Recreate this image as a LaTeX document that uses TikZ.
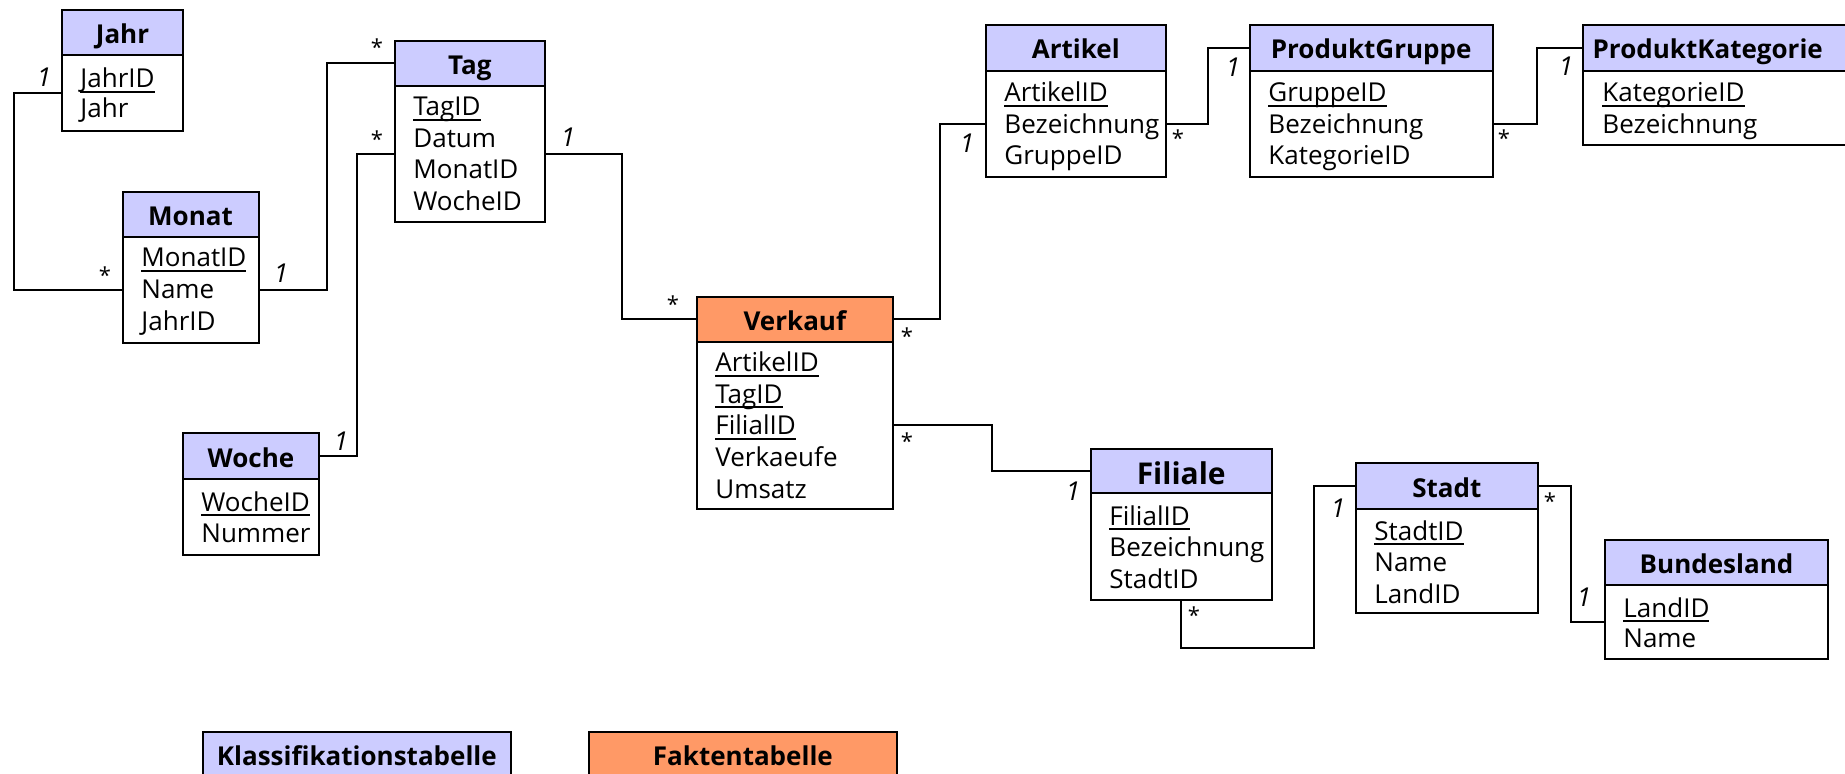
\documentclass[tikz,border=0pt]{standalone}
\usepackage{fontspec}
\setmainfont{Open Sans}
\definecolor{dimblue}{HTML}{CCCCFF}
\definecolor{factorange}{HTML}{FF9966}
\newcommand\keyattr[1]{\setbox0=\hbox{#1}\rlap{\vrule height -1.3pt depth 2.3pt width \wd0}\box0}
\tikzset{
  hdr/.style={draw=black, line width=1pt, inner sep=0pt, outer sep=0pt, anchor=north west,
    font=\bfseries\fontsize{13}{15}\selectfont, text height=11pt, text depth=0pt},
  bdy/.style={draw=black, line width=1pt, inner sep=0pt, outer sep=0pt, anchor=north west, fill=white},
  attr/.style={anchor=base west, inner sep=0pt, font=\fontsize{13}{15}\selectfont},
  card/.style={inner sep=0pt, font=\fontsize{11}{13}\selectfont},
  one/.style={inner sep=0pt, font=\itshape\fontsize{13}{15}\selectfont},
  conn/.style={line width=1pt, line join=miter},
}
% #1 name #2 x #3 top #4 width #5 header h #6 body h #7 fill #8 title
\newcommand\mktable[8]{%
  \node[bdy, minimum width=#4*0.5pt, minimum height=#6*0.5pt] (#1B) at (#2,#3+#5) {};
  \node[hdr, fill=#7, minimum width=#4*0.5pt, minimum height=#5*0.5pt] (#1H) at (#2,#3) {#8};
}
\begin{document}
\begin{tikzpicture}[x=0.5pt,y=-0.5pt]
\useasboundingbox (0,0) rectangle (1845,774);
\clip (0,0) rectangle (1845,774);

% ---- tables
\mktable{jahr}{62}{10}{121}{45}{76}{dimblue}{Jahr}
\node[attr] (jahrR1) at (80,88) {\keyattr{JahrID}};
\node[attr] (jahrR2) at (80,118) {Jahr};

\mktable{monat}{122.5}{192}{136}{45}{106}{dimblue}{Monat}
\node[attr] (monatR1) at (141,267) {\keyattr{MonatID}};
\node[attr] (monatR2) at (141,299) {Name};
\node[attr] (monatR3) at (141,331) {JahrID};

\mktable{tag}{394.6}{40.7}{150.4}{45.3}{135.7}{dimblue}{Tag}
\node[attr] (tagR1) at (413,116) {\keyattr{TagID}};
\node[attr] (tagR2) at (413,147.5) {Datum};
\node[attr] (tagR3) at (413,179) {MonatID};
\node[attr] (tagR4) at (413,210.5) {WocheID};

\mktable{woche}{183}{433}{136}{46}{76}{dimblue}{Woche}
\node[attr] (wocheR1) at (201,511.5) {\keyattr{WocheID}};
\node[attr] (wocheR2) at (201,542) {Nummer};

\mktable{verkauf}{696.7}{297}{196.3}{45}{167}{factorange}{Verkauf}
\node[attr] (verkaufR1) at (715,372) {\keyattr{ArtikelID}};
\node[attr] (verkaufR2) at (715,403.5) {\keyattr{TagID}};
\node[attr] (verkaufR3) at (715,435) {\keyattr{FilialID}};
\node[attr] (verkaufR4) at (715,466.5) {Verkaeufe};
\node[attr] (verkaufR5) at (715,498) {Umsatz};

\mktable{artikel}{985.6}{25}{180.4}{46}{106}{dimblue}{Artikel}
\node[attr] (artikelR1) at (1004,102) {\keyattr{ArtikelID}};
\node[attr] (artikelR2) at (1004,133.5) {Bezeichnung};
\node[attr] (artikelR3) at (1004,165) {GruppeID};

\mktable{pg}{1249.6}{25}{243.1}{46}{106}{dimblue}{ProduktGruppe}
\node[attr] (pgR1) at (1268,102) {\keyattr{GruppeID}};
\node[attr] (pgR2) at (1268,133.5) {Bezeichnung};
\node[attr] (pgR3) at (1268,165) {KategorieID};

\mktable{pk}{1582.7}{25}{270}{46}{74}{dimblue}{\hspace*{-10pt}ProduktKategorie}
\node[attr] (pkR1) at (1602,102) {\keyattr{KategorieID}};
\node[attr] (pkR2) at (1602,133.5) {Bezeichnung};

\node[bdy, minimum width=181*0.5pt, minimum height=107*0.5pt] (filialeB) at (1090.7,493) {};
\node[hdr, fill=dimblue, minimum width=181*0.5pt, minimum height=44*0.5pt,
  font=\bfseries\fontsize{15}{17}\selectfont, text height=13pt] (filialeH) at (1090.7,449) {Filiale};
\node[attr] (filialeR1) at (1109,525) {\keyattr{FilialID}};
\node[attr] (filialeR2) at (1109,556.5) {Bezeichnung};
\node[attr] (filialeR3) at (1109,588) {StadtID};

\mktable{stadt}{1355.8}{463}{182}{46}{104}{dimblue}{Stadt}
\node[attr] (stadtR1) at (1374,540) {\keyattr{StadtID}};
\node[attr] (stadtR2) at (1374,571.5) {Name};
\node[attr] (stadtR3) at (1374,603) {LandID};

\mktable{bundesland}{1605}{540}{223}{45}{74}{dimblue}{Bundesland}
\node[attr] (bundeslandR1) at (1623,617) {\keyattr{LandID}};
\node[attr] (bundeslandR2) at (1623,647.5) {Name};

% ---- legend
\node[hdr, fill=dimblue, minimum width=308.3*0.5pt, minimum height=45*0.5pt] (legendK) at (202.7,731.7) {Klassifikationstabelle};
\node[hdr, fill=factorange, minimum width=307.7*0.5pt, minimum height=45*0.5pt] (legendF) at (589,732) {Faktentabelle};

% ---- connectors
\draw[conn] (jahrB.west) -- ++(-48,0) |- (monatB.west);
\draw[conn] (monatB.east) -- ++(68.5,0) |- (tagH.west);
\draw[conn] (tagB.west) -- ++(-37.6,0) |- (wocheH.east);
\draw[conn] (tagB.east) -- ++(76.6,0) |- (verkaufH.west);
\draw[conn] (verkaufH.east) -- ++(47,0) |- (artikelB.west);
\draw[conn] (artikelB.east) -- ++(42,0) |- (pgH.west);
\draw[conn] (pgB.east) -- ++(44.3,0) |- (pkH.west);
\draw[conn] (verkaufB.east) -- ++(99,0) |- (filialeH.west);
\draw[conn] (filialeB.south) -- ++(0,48) -- ++(132.7,0) |- (stadtH.west);
\draw[conn] (stadtH.east) -- ++(33,0) |- (bundeslandB.west);

% ---- cardinalities
\node[one] (c1) at (44,77) {1};
\node[card] (c2) at (105,275) {*};
\node[one] (c3) at (281,273) {1};
\node[card] (c4) at (377,47) {*};
\node[card] (c5) at (377,139) {*};
\node[one] (c6) at (341,441) {1};
\node[one] (c7) at (568,137) {1};
\node[card] (c8) at (673,304) {*};
\node[card] (c9) at (907,336) {*};
\node[one] (c10) at (967,143) {1};
\node[card] (c11) at (1178,138) {*};
\node[one] (c12) at (1233,67) {1};
\node[card] (c13) at (1504,138) {*};
\node[one] (c14) at (1566,66) {1};
\node[card] (c15) at (907,441) {*};
\node[one] (c16) at (1073,491) {1};
\node[card] (c17) at (1194,615) {*};
\node[one] (c18) at (1338,508) {1};
\node[card] (c19) at (1550,501) {*};
\node[one] (c20) at (1584,597) {1};
\end{tikzpicture}
\end{document}
